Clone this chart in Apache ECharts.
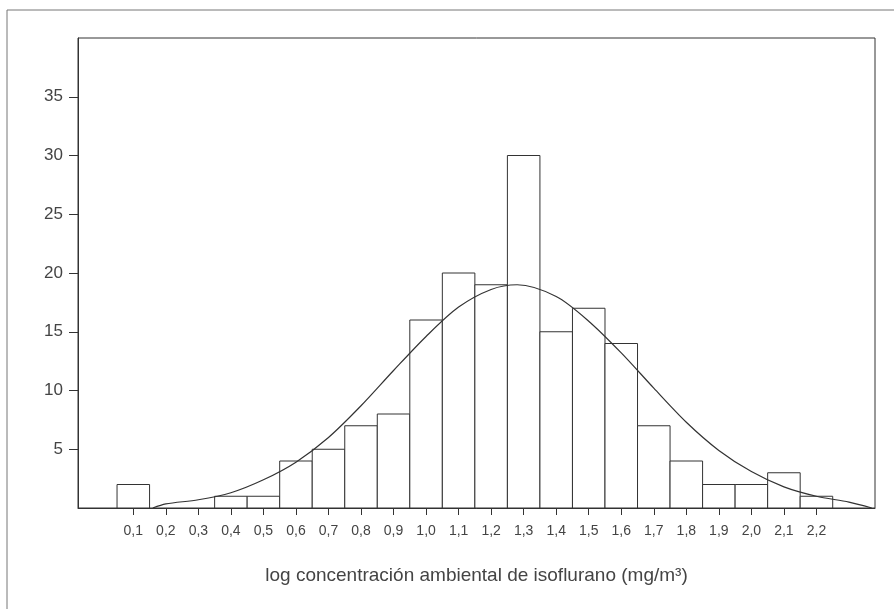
<!DOCTYPE html>
<html>
<head>
<meta charset="utf-8">
<title>isoflurano</title>
<script src="https://cdn.jsdelivr.net/npm/echarts@6/dist/echarts.min.js"></script>
<style>
  html, body { margin: 0; padding: 0; background: #fff; }
  #chart { width: 894px; height: 609px; }
</style>
</head>
<body>
<div id="chart"></div>
<script>
  // class centres of the histogram (log mg/m3) and the counts per class
  const binCenters = [0.1, 0.2, 0.3, 0.4, 0.5, 0.6, 0.7, 0.8, 0.9, 1.0, 1.1,
                      1.2, 1.3, 1.4, 1.5, 1.6, 1.7, 1.8, 1.9, 2.0, 2.1, 2.2];
  const counts = [2, 0, 0, 1, 1, 4, 5, 7, 8, 16, 20,
                  19, 30, 15, 17, 14, 7, 4, 2, 2, 3, 1];

  // fitted normal curve
  const curveX = [0.16, 0.2, 0.3, 0.4, 0.5, 0.6, 0.7, 0.8, 0.9, 1.0, 1.1, 1.2,
                  1.28, 1.4, 1.5, 1.6, 1.7, 1.8, 1.9, 2.0, 2.1, 2.2, 2.3, 2.37];
  const curveY = [0, 0.35, 0.7, 1.3, 2.4, 3.9, 6.0, 8.7, 11.7, 14.6, 17.1, 18.6,
                  19.0, 18.0, 15.9, 13.2, 10.2, 7.3, 4.9, 3.1, 1.8, 1.0, 0.5, 0];

  const yTicks = [5, 10, 15, 20, 25, 30, 35];
  const binWidth = 0.1;

  const ink = '#333';
  const font = 'Liberation Sans, Arial, sans-serif';

  const chart = echarts.init(document.getElementById('chart'));
  chart.setOption({
    animation: false,
    backgroundColor: '#fff',
    graphic: [{
      type: 'rect',
      shape: { x: 7, y: 10, width: 900, height: 610 },
      style: { fill: 'none', stroke: '#777', lineWidth: 1 },
      silent: true
    }],
    grid: {
      left: 78, top: 38, right: 19, bottom: 101,
      show: true, borderColor: ink, borderWidth: 1
    },
    xAxis: {
      type: 'value',
      min: -0.07,
      max: 2.38,
      name: 'log concentración ambiental de isoflurano (mg/m³)',
      nameLocation: 'middle',
      nameGap: 58,
      nameTextStyle: { color: '#444', fontSize: 19, fontFamily: font },
      axisLine: { show: true, onZero: false, lineStyle: { color: ink } },
      axisTick: { show: true, length: 7, customValues: binCenters, lineStyle: { color: ink } },
      axisLabel: {
        customValues: binCenters,
        color: '#444', fontSize: 14, fontFamily: font, margin: 16,
        formatter: v => v.toFixed(1).replace('.', ',')
      },
      splitLine: { show: false }
    },
    yAxis: {
      type: 'value',
      min: 0,
      max: 40,
      axisLine: { show: true, onZero: false, lineStyle: { color: ink } },
      axisTick: { show: true, length: 9, customValues: yTicks, lineStyle: { color: ink } },
      axisLabel: {
        customValues: yTicks,
        color: '#444', fontSize: 17, fontFamily: font, margin: 15
      },
      splitLine: { show: false }
    },
    series: [
      {
        type: 'custom',
        data: binCenters.map((x, i) => [x, counts[i]]),
        renderItem: function (params, api) {
          const x = api.value(0);
          const y = api.value(1);
          if (!y) return;
          const p0 = api.coord([x - binWidth / 2, y]);
          const p1 = api.coord([x + binWidth / 2, 0]);
          return {
            type: 'rect',
            shape: { x: p0[0], y: p0[1], width: p1[0] - p0[0], height: p1[1] - p0[1] },
            style: { fill: '#fff', stroke: ink, lineWidth: 1 }
          };
        },
        z: 2
      },
      {
        type: 'line',
        data: curveX.map((x, i) => [x, curveY[i]]),
        smooth: 0.3,
        showSymbol: false,
        lineStyle: { color: ink, width: 1.2 },
        z: 3
      }
    ]
  });
</script>
</body>
</html>
